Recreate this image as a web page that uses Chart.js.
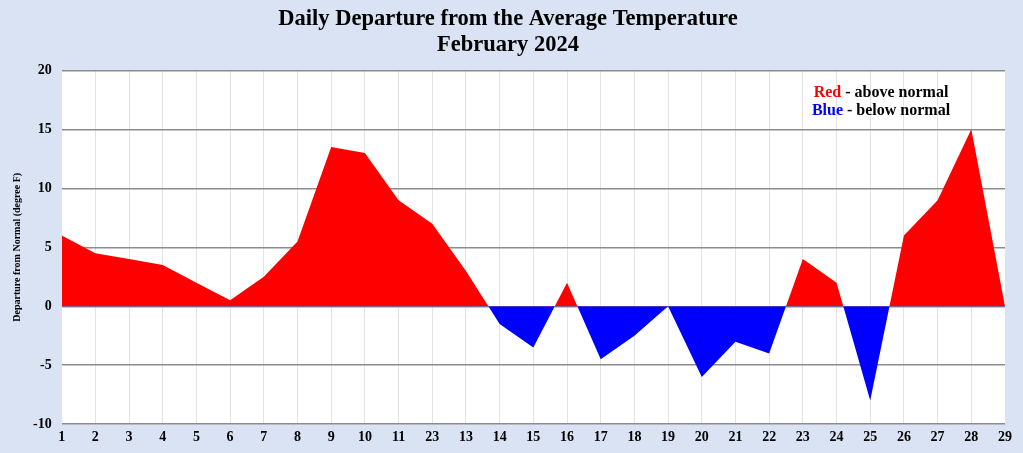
<!DOCTYPE html>
<html>
<head>
<meta charset="utf-8">
<script src="https://cdn.jsdelivr.net/npm/chart.js@4/dist/chart.umd.min.js"></script>
<style>
  html, body { margin: 0; padding: 0; background: #dae3f3; }
  #wrap { width: 1023px; height: 453px; position: relative; }
</style>
</head>
<body>
<div id="wrap"><canvas id="tempChart"></canvas></div>
<script>
// day labels as printed on the original axis (note "23" in place of 12)
const dayLabels = ['1', '2', '3', '4', '5', '6', '7', '8', '9', '10', '11', '23', '13', '14', '15',
    '16', '17', '18', '19', '20', '21', '22', '23', '24', '25', '26', '27', '28', '29'];
const departures = [6, 4.5, 4, 3.5, 2, 0.5, 2.5, 5.5, 13.5, 13, 9, 7, 3, -1.5, -3.5,
    2, -4.5, -2.5, 0, -6, -3, -4, 4, 2, -8, 6, 9, 15, 0];
const yTicks = [-10, -5, 0, 5, 10, 15, 20];
const titleLines = ['Daily Departure from the Average Temperature', 'February 2024'];

const serif = "'Liberation Serif', 'Times New Roman', serif";

const backgroundPlugin = {
    id: 'backgrounds',
    beforeDraw(chart) {
        const ctx = chart.ctx;
        const a = chart.chartArea;
        ctx.save();
        ctx.fillStyle = '#dae3f3';
        ctx.fillRect(0, 0, chart.width, chart.height);
        ctx.fillStyle = '#ffffff';
        ctx.fillRect(a.left, a.top, a.right - a.left, a.bottom - a.top);
        ctx.restore();
    }
};

const noteText = {
    id: 'noteText',
    afterDraw(chart) {
        const ctx = chart.ctx;
        const a = chart.chartArea;
        const cx = a.right - 124;
        ctx.save();
        ctx.font = 'bold 16px ' + serif;
        ctx.textBaseline = 'middle';
        const rows = [['Red', '#ff0000', ' - above normal', 22], ['Blue', '#0000ff', ' - below normal', 40]];
        rows.forEach(function(r) {
            const w1 = ctx.measureText(r[0]).width;
            const w2 = ctx.measureText(r[2]).width;
            let x = cx - (w1 + w2) / 2;
            ctx.textAlign = 'left';
            ctx.fillStyle = r[1];
            ctx.fillText(r[0], x, a.top + r[3]);
            ctx.fillStyle = '#000000';
            ctx.fillText(r[2], x + w1, a.top + r[3]);
        });
        ctx.restore();
    }
};

const ctx = document.getElementById('tempChart').getContext('2d');
new Chart(ctx, {
    type: 'line',
    data: {
        labels: dayLabels,
        datasets: [{
            data: departures,
            borderWidth: 0,
            borderColor: 'rgba(0,0,0,0)',
            pointRadius: 0,
            tension: 0,
            fill: { target: 'origin', above: '#ff0000', below: '#0000ff' }
        }]
    },
    options: {
        responsive: true,
        maintainAspectRatio: false,
        animation: false,
        layout: { padding: { top: 3, right: 18, left: 11, bottom: 2 } },
        scales: {
            x: {
                offset: false,
                grid: { color: '#e3e3e3', lineWidth: 1, drawTicks: false },
                border: { display: false },
                ticks: {
                    autoSkip: false,
                    maxRotation: 0,
                    padding: 5,
                    color: '#000',
                    font: { family: serif, weight: 'bold', size: 14 }
                }
            },
            y: {
                min: -10,
                max: 20,
                afterBuildTicks(axis) {
                    axis.ticks = yTicks.map(v => ({ value: v }));
                },
                grid: { color: '#8c8c8c', lineWidth: 1.5, drawTicks: false },
                border: { display: false },
                ticks: {
                    padding: 10,
                    color: '#000',
                    font: { family: serif, weight: 'bold', size: 14 }
                },
                title: {
                    display: true,
                    text: 'Departure from Normal (degree F)',
                    color: '#000',
                    padding: { top: 0, bottom: 0 },
                    font: { family: serif, weight: 'bold', size: 10 }
                }
            }
        },
        plugins: {
            legend: { display: false },
            tooltip: { enabled: false },
            title: {
                display: true,
                text: titleLines,
                color: '#000',
                padding: { top: 4, bottom: 13 },
                font: { family: serif, weight: 'bold', size: 22.5, lineHeight: 1.12 }
            }
        }
    },
    plugins: [backgroundPlugin, noteText]
});
</script>
</body>
</html>
